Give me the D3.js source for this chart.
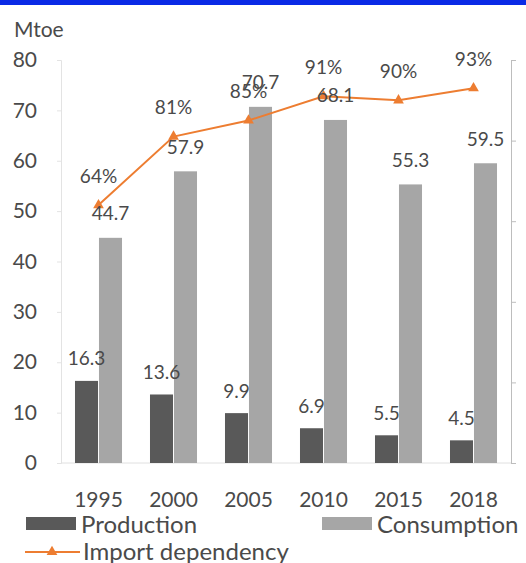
<!DOCTYPE html>
<html>
<head>
<meta charset="utf-8">
<script src="https://cdn.jsdelivr.net/npm/d3@7"></script>
<style>
html,body{margin:0;padding:0;background:#fff;}
svg{display:block;}
text{font-family:Lato,"Open Sans",sans-serif;}
</style>
</head>
<body>
<svg id="chart" width="526" height="563"></svg>
<script>
const years = ["1995","2000","2005","2010","2015","2018"];
const production = [16.3, 13.6, 9.9, 6.9, 5.5, 4.5];
const consumption = [44.7, 57.9, 70.7, 68.1, 55.3, 59.5];
const importDependency = [0.64, 0.81, 0.85, 0.91, 0.90, 0.93];
const leftTicks = [0,10,20,30,40,50,60,70,80];
const rightTicks = [0,0.2,0.4,0.6,0.8,1.0];
const seriesNames = ["Production","Consumption"];
const seriesColors = ["#595959","#a6a6a6"];
const lineColor = "#ed7d31";
const textColor = "#4a4a4a";

const svg = d3.select("#chart");
svg.append("rect").attr("x",0).attr("y",0).attr("width",526).attr("height",5).attr("fill","#0a2ae6");

const x0 = d3.scaleBand().domain(years).range([61,511]).paddingInner(0.373).paddingOuter(0.1865);
const x1 = d3.scaleBand().domain(seriesNames).range([0,x0.bandwidth()]).paddingInner(0.04);
const y = d3.scaleLinear().domain([0,80]).range([463,60]);
const y2 = d3.scaleLinear().domain([0,1]).range([463,60]);

// left axis
const gL = svg.append("g").attr("transform","translate(61,0)")
  .call(d3.axisLeft(y).tickValues(leftTicks).tickSize(4).tickPadding(20).tickFormat(d3.format("d")));
gL.select(".domain").attr("stroke","#e3e3e3");
gL.selectAll(".tick line").attr("stroke","#e3e3e3");
gL.selectAll(".tick text").attr("fill",textColor).style("font-size","21px").style("font-family","Lato");

// right axis
const gR = svg.append("g").attr("transform","translate(511,0)")
  .call(d3.axisRight(y2).tickValues(rightTicks).tickSize(5).tickFormat(""));
gR.select(".domain").attr("stroke","#bdbdbd");
gR.selectAll(".tick line").attr("stroke","#bdbdbd");

// baseline
svg.append("line").attr("x1",61).attr("x2",511).attr("y1",y(0)).attr("y2",y(0)).attr("stroke","#e0e0e0");

// x labels
svg.append("g").selectAll("text").data(years).join("text")
  .attr("x",d=>x0(d)+x0.bandwidth()/2).attr("y",498)
  .attr("text-anchor","middle").attr("dominant-baseline","central")
  .attr("fill",textColor).style("font-size","21px").text(d=>d);

svg.append("text").attr("x",14).attr("y",28).attr("dominant-baseline","central")
  .attr("fill",textColor).style("font-size","21px").text("Mtoe");

const seriesData = [production, consumption];
seriesNames.forEach((name,si)=>{
  svg.append("g").selectAll("rect").data(years).join("rect")
    .attr("x",(d)=>x0(d)+x1(name))
    .attr("y",(d,i)=>y(seriesData[si][i]))
    .attr("width",x1.bandwidth())
    .attr("height",(d,i)=>y(0)-y(seriesData[si][i]))
    .attr("fill",seriesColors[si]);
});

// line
const cx = d=>x0(d)+x0.bandwidth()/2;
const line = d3.line().x((d,i)=>cx(years[i])).y(d=>y2(d));
svg.append("path").datum(importDependency).attr("d",line)
  .attr("fill","none").attr("stroke",lineColor).attr("stroke-width",2);
const tri = d3.symbol().type(d3.symbolTriangle).size(50);
svg.append("g").selectAll("path").data(importDependency).join("path")
  .attr("transform",(d,i)=>`translate(${cx(years[i])},${y2(d)})`)
  .attr("d",tri).attr("fill",lineColor);

// value labels
seriesNames.forEach((name,si)=>{
  svg.append("g").selectAll("text").data(years).join("text")
    .attr("x",d=>x0(d)+x1(name)+x1.bandwidth()/2)
    .attr("y",(d,i)=>y(seriesData[si][i]) - (si===0?23:25))
    .attr("text-anchor","middle").attr("dominant-baseline","central")
    .attr("fill",textColor).style("font-size","19px")
    .text((d,i)=>seriesData[si][i].toFixed(1));
});
svg.append("g").selectAll("text").data(importDependency).join("text")
  .attr("x",(d,i)=>cx(years[i]))
  .attr("y",d=>y2(d)-30)
  .attr("text-anchor","middle").attr("dominant-baseline","central")
  .attr("fill",textColor).style("font-size","19px")
  .text(d=>d3.format(".0%")(d));

// legend
const lg = svg.append("g");
[[26,517,0],[322,517,1]].forEach(([lx,ly,si])=>{
  lg.append("rect").attr("x",lx).attr("y",ly).attr("width",50).attr("height",13).attr("fill",seriesColors[si]);
  lg.append("text").attr("x",lx+55).attr("y",ly+6.5).attr("dominant-baseline","central")
    .attr("fill",textColor).style("font-size","24px").text(seriesNames[si]);
});
lg.append("line").attr("x1",25).attr("x2",80).attr("y1",552).attr("y2",552).attr("stroke",lineColor).attr("stroke-width",2);
lg.append("path").attr("transform","translate(52,552)").attr("d",tri).attr("fill",lineColor);
lg.append("text").attr("x",83).attr("y",550).attr("dominant-baseline","central")
  .attr("fill",textColor).style("font-size","24px").text("Import dependency");
</script>
</body>
</html>
